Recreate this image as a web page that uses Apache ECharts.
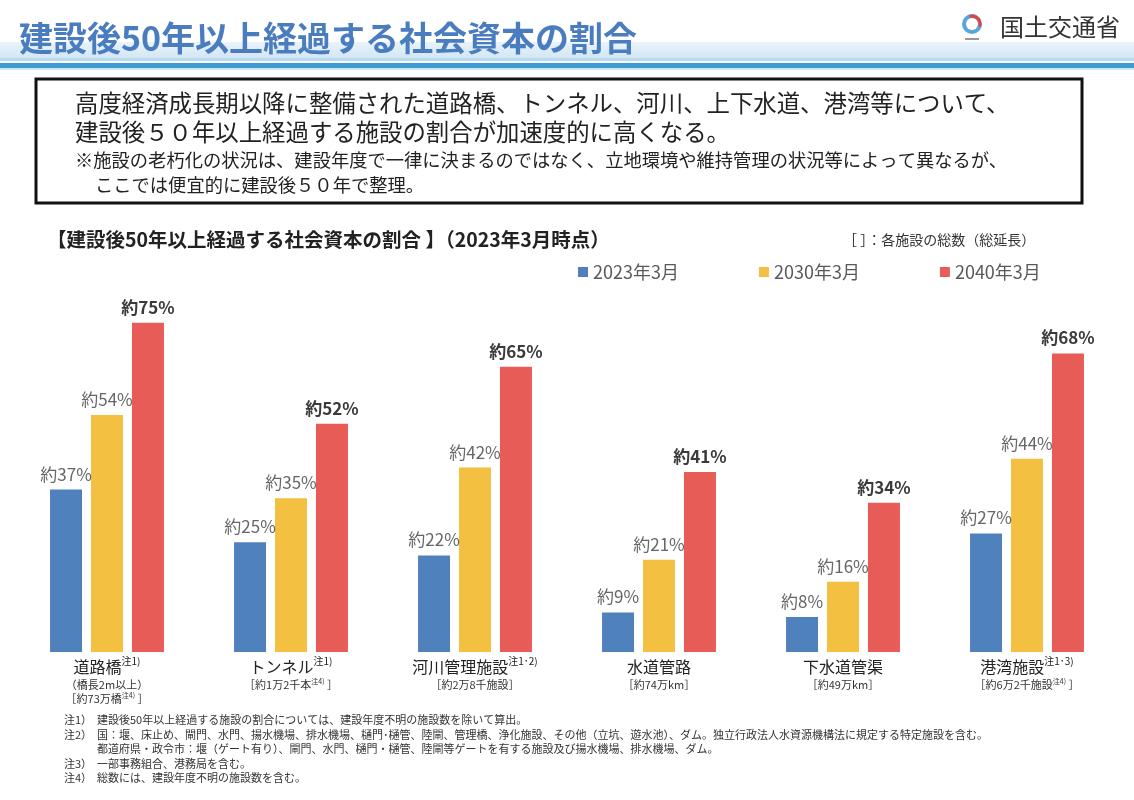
<!DOCTYPE html>
<html>
<head>
<meta charset="utf-8">
<script src="https://cdn.jsdelivr.net/npm/echarts@6/dist/echarts.min.js"></script>
<style>
  html, body { margin: 0; padding: 0; background: #fff; }
  #chartMain { width: 1134px; height: 800px; }
</style>
</head>
<body>
<div id="chartMain"></div>
<script>
// データ
var categories = ['道路橋', 'トンネル', '河川管理施設', '水道管路', '下水道管渠', '港湾施設'];
var catNotes = ['注1)', '注1)', '注1･2)', '', '', '注1･3)'];
var catSubs = ['（橋長2m以上）', '', '', '', '', ''];
var catTotals = ['約73万橋', '約1万2千本', '約2万8千施設', '約74万km', '約49万km', '約6万2千施設'];
var totalNotes = ['注4)', '注4)', '', '', '', '注4)'];
var seriesNames = ['2023年3月', '2030年3月', '2040年3月'];
var v2023 = [37, 25, 22, 9, 8, 27];
var v2030 = [54, 35, 42, 21, 16, 44];
var v2040 = [75, 52, 65, 41, 34, 68];

var footnotes = [
    ['注1）', '建設後50年以上経過する施設の割合については、建設年度不明の施設数を除いて算出。'],
    ['注2）', '国：堰、床止め、閘門、水門、揚水機場、排水機場、樋門･樋管、陸閘、管理橋、浄化施設、その他（立坑、遊水池）、ダム。独立行政法人水資源機構法に規定する特定施設を含む。'],
    ['', '都道府県・政令市：堰（ゲート有り）、閘門、水門、樋門・樋管、陸閘等ゲートを有する施設及び揚水機場、排水機場、ダム。'],
    ['注3）', '一部事務組合、港務局を含む。'],
    ['注4）', '総数には、建設年度不明の施設数を含む。']
];

var FONT = '"Noto Sans CJK JP", "Noto Sans", sans-serif';

function txt(x, y, text, size, color, weight, align) {
    return {
        type: 'text',
        x: x, y: y,
        silent: true,
        style: {
            text: text,
            font: (weight || 'normal') + ' ' + size + 'px ' + FONT,
            fill: color,
            align: align || 'left',
            verticalAlign: 'middle'
        }
    };
}

// ヘッダーなど
var graphics = [
    { type: 'rect', shape: { x: 0, y: 42, width: 1134, height: 16 },
      style: { fill: new echarts.graphic.LinearGradient(0, 0, 0, 1, [
          { offset: 0, color: '#eaf3fa' }, { offset: 1, color: '#d3e7f5' }]) } },
    { type: 'rect', shape: { x: 0, y: 58, width: 1134, height: 3 }, style: { fill: '#b8daef' } },
    { type: 'rect', shape: { x: 0, y: 63, width: 1134, height: 5 }, style: { fill: '#3d9ad2' } },
    { type: 'rect', shape: { x: 0, y: 68, width: 1134, height: 2 }, style: { fill: '#cfe6f4' } },
    txt(19, 38, '建設後50年以上経過する社会資本の割合', 34, '#4a7dbf', 'bold'),
    // ロゴ
    { type: 'circle', shape: { cx: 972, cy: 24, r: 10 }, style: { fill: '#5aa6dc' } },
    { type: 'circle', shape: { cx: 972, cy: 24, r: 6 }, style: { fill: '#ffffff' } },
    { type: 'arc', shape: { cx: 972, cy: 24, r: 8, startAngle: -Math.PI * 0.6, endAngle: Math.PI * 0.1 },
      style: { stroke: '#e0453e', lineWidth: 3, fill: null } },
    { type: 'rect', shape: { x: 965, y: 38, width: 14, height: 2 }, style: { fill: '#999' } },
    txt(1000, 27, '国土交通省', 24, '#333333', 'normal'),
    // 説明ボックス
    { type: 'rect', shape: { x: 36, y: 79, width: 1046, height: 124 },
      style: { fill: '#fff', stroke: '#111', lineWidth: 3 } },
    txt(75, 103, '高度経済成長期以降に整備された道路橋、トンネル、河川、上下水道、港湾等について、', 23.4, '#222'),
    txt(75, 132, '建設後５０年以上経過する施設の割合が加速度的に高くなる。', 23.4, '#222'),
    txt(75, 160, '※施設の老朽化の状況は、建設年度で一律に決まるのではなく、立地環境や維持管理の状況等によって異なるが、', 18.3, '#222'),
    txt(95, 185, 'ここでは便宜的に建設後５０年で整理。', 18.3, '#222'),
    // サブタイトル
    txt(47, 240, '【建設後50年以上経過する社会資本の割合 】（2023年3月時点）', 19.5, '#222', 'bold'),
    txt(843, 240, '［ ］：各施設の総数（総延長）', 14, '#333')
];
for (var i = 0; i < footnotes.length; i++) {
    var fy = 720 + i * 14.5;
    if (footnotes[i][0]) graphics.push(txt(64, fy, footnotes[i][0], 11, '#333'));
    graphics.push(txt(97, fy, footnotes[i][1], 11, '#333'));
}

function barLabel(bold) {
    return {
        show: true,
        position: 'top',
        distance: 7,
        fontFamily: FONT,
        fontSize: 17,
        fontWeight: bold ? 'bold' : 'normal',
        color: bold ? '#3a3a3a' : '#666666',
        formatter: function (p) { return '約' + p.value + '%'; }
    };
}

var option = {
    animation: false,
    textStyle: { fontFamily: FONT },
    legend: {
        data: seriesNames,
        left: 573,
        top: 258,
        icon: 'rect',
        itemWidth: 10,
        itemHeight: 10,
        itemGap: 80,
        textStyle: { fontSize: 18, color: '#595959', fontFamily: FONT }
    },
    grid: { left: 15, right: 15, top: 213, bottom: 148 },
    xAxis: {
        type: 'category',
        data: categories,
        axisLine: { show: false },
        axisTick: { show: false },
        axisLabel: {
            margin: 4,
            interval: 0,
            formatter: function (value, idx) {
                var s = '{name|' + value + '}';
                if (catNotes[idx]) s += '{sup|' + catNotes[idx] + '}';
                if (catSubs[idx]) s += '\n{sub|' + catSubs[idx] + '}';
                s += '\n{tot|［' + catTotals[idx] + '}';
                if (totalNotes[idx]) s += '{supS|' + totalNotes[idx] + '}{tot| ］}';
                else s += '{tot|］}';
                return s;
            },
            rich: {
                name: { fontSize: 16, color: '#222', lineHeight: 22, fontFamily: FONT },
                sup: { fontSize: 10, color: '#222', lineHeight: 22, verticalAlign: 'top', fontFamily: FONT },
                sub: { fontSize: 11, color: '#333', lineHeight: 14, fontFamily: FONT },
                tot: { fontSize: 11, color: '#333', lineHeight: 14, fontFamily: FONT },
                supS: { fontSize: 7, color: '#333', lineHeight: 14, verticalAlign: 'top', fontFamily: FONT }
            }
        }
    },
    yAxis: {
        type: 'value',
        min: 0,
        max: 100,
        show: false,
        splitLine: { show: false }
    },
    series: [{
        name: seriesNames[0],
        type: 'bar',
        data: v2023,
        barWidth: 32,
        barGap: '28%',
        itemStyle: { color: '#4f81bd' },
        label: barLabel(false)
    }, {
        name: seriesNames[1],
        type: 'bar',
        data: v2030,
        barWidth: 32,
        barGap: '28%',
        itemStyle: { color: '#f3c041' },
        label: barLabel(false)
    }, {
        name: seriesNames[2],
        type: 'bar',
        data: v2040,
        barWidth: 32,
        barGap: '28%',
        itemStyle: { color: '#e85c57' },
        label: barLabel(true)
    }],
    graphic: graphics
};

var myChart = echarts.init(document.getElementById('chartMain'));
myChart.setOption(option);
</script>
</body>
</html>
